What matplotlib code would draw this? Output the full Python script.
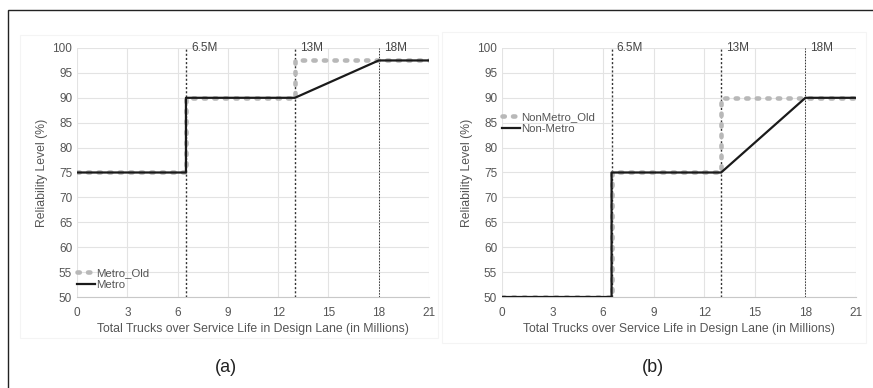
import numpy as np
import matplotlib
matplotlib.use('Agg')
import matplotlib.pyplot as plt
from matplotlib.patches import Rectangle

plt.rcParams['font.family'] = ['Liberation Sans', 'DejaVu Sans']

# data
x_old = [0, 6.5, 6.5, 13, 13, 21]
metro_old = [75, 75, 90, 90, 97.5, 97.5]
x_new = [0, 6.5, 6.5, 13, 18, 21]
metro = [75, 75, 90, 90, 97.5, 97.5]
nonmetro_old = [50, 50, 75, 75, 90, 90]
nonmetro = [50, 50, 75, 75, 90, 90]
thresholds = [6.5, 13, 18]
threshold_labels = ['6.5M', '13M', '18M']
xticks = [0, 3, 6, 9, 12, 15, 18, 21]
yticks = [50, 55, 60, 65, 70, 75, 80, 85, 90, 95, 100]

fig = plt.figure(figsize=(8.73, 3.88), dpi=100)
# outer frame
fig.add_artist(Rectangle((8/873, -0.01), 1.0, 1 - 10/388 + 0.01, transform=fig.transFigure,
                         fill=False, edgecolor='#222222', linewidth=1.0))
# faint chart-area borders
for x0, y0, x1, y1 in [(20, 35, 438, 338), (442, 32, 866, 343)]:
    fig.add_artist(Rectangle((x0/873, 1 - y1/388), (x1 - x0)/873, (y1 - y0)/388,
                             transform=fig.transFigure, fill=False,
                             edgecolor='#f4f4f4', linewidth=0.8))

panels = [
    dict(rect=[77/873, 1 - 297/388, 352/873, 249/388], old=metro_old, new=metro,
         names=('Metro_Old', 'Metro'), loc='lower left', anchor=(-0.02, 0.0), cap='(a)', capx=226),
    dict(rect=[502/873, 1 - 297/388, 354/873, 249/388], old=nonmetro_old, new=nonmetro,
         names=('NonMetro_Old', 'Non-Metro'), loc='upper left', anchor=(-0.02, 0.77), cap='(b)', capx=653),
]

for p in panels:
    ax = fig.add_axes(p['rect'])
    ax.plot(x_old, p['old'], color='#b8b8b8', linestyle=(0, (0.5, 1.8)), linewidth=3.3,
            dash_capstyle='round', label=p['names'][0], zorder=3)
    ax.plot(x_new, p['new'], color='#1a1a1a', linewidth=1.6, label=p['names'][1], zorder=4)
    for t, lab in zip(thresholds, threshold_labels):
        lw = 1.0 if t < 18 else 0.7
        ax.axvline(t, color='#333333', linestyle=(0, (1.5, 1.5)), linewidth=lw, zorder=2)
        ax.text(t + 0.3, 100, lab, fontsize=8.5, color='#444444', va='center', ha='left')
    ax.set_xlim(0, 21)
    ax.set_ylim(50, 100)
    ax.set_xticks(xticks)
    ax.set_yticks(yticks)
    ax.grid(True, color='#e3e3e3', linewidth=0.8, zorder=0)
    ax.set_axisbelow(True)
    for s in ['top', 'right', 'left']:
        ax.spines[s].set_visible(False)
    ax.spines['bottom'].set_color('#c8c8c8')
    ax.tick_params(axis='x', pad=7)
    ax.tick_params(length=0, labelsize=8.5, colors='#555555')
    ax.set_xlabel('Total Trucks over Service Life in Design Lane (in Millions)',
                  fontsize=8.8, color='#555555', labelpad=3)
    ax.set_ylabel('Reliability Level (%)', fontsize=8.8, color='#555555', labelpad=3)
    leg = ax.legend(loc=p['loc'], bbox_to_anchor=p['anchor'], fontsize=8.2, frameon=False,
                    handlelength=1.6, handletextpad=0.1, labelspacing=0.2, borderaxespad=0.2)
    for txt in leg.get_texts():
        txt.set_color('#555555')
    fig.text(p['capx'] / 873, 1 - 368/388, p['cap'], fontsize=13, ha='center', va='center',
             color='#222222')

plt.savefig('out.png', dpi=100)
plt.close()
